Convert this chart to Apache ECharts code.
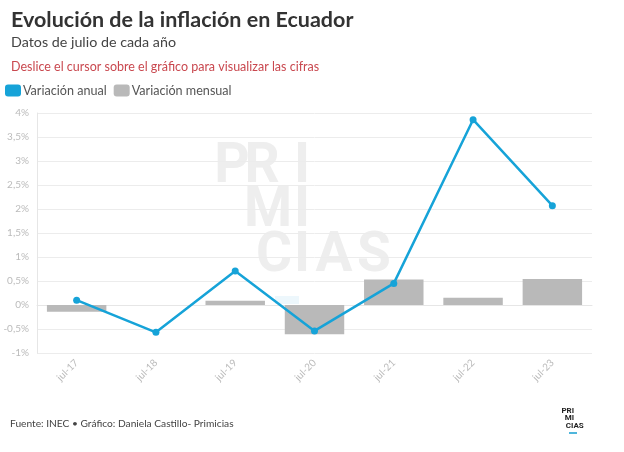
<!DOCTYPE html>
<html><head><meta charset="utf-8">
<script src="https://cdn.jsdelivr.net/npm/echarts@6/dist/echarts.min.js"></script>
<style>html,body{margin:0;padding:0;background:#fff}#c{width:624px;height:452px}</style>
</head><body><div id="c"></div>
<script>
const categories = ['jul-17','jul-18','jul-19','jul-20','jul-21','jul-22','jul-23'];
const variacionAnual = [0.10, -0.57, 0.71, -0.54, 0.45, 3.86, 2.07];
const variacionMensual = [-0.14, 0, 0.09, -0.61, 0.53, 0.15, 0.54];
const blue = '#16a3d8', gray = '#b9b9b9';
const FF = 'Lato';
const wm = '#eeeeee';
function L(t, x, y, size, color, align){
  return {type:'text', z:-10, silent:true, style:{text:t, x:x, y:y, fill:color, font:'bold '+size+'px Roboto', textAlign:align||'center', textVerticalAlign:'middle'}};
}
const chart = echarts.init(document.getElementById('c'));
chart.setOption({
  animation:false,
  title:[
    {text:'Evolución de la inflación en Ecuador', left:6, top:4, textStyle:{fontFamily:FF, fontWeight:'bold', fontSize:21.5, color:'#333'}},
    {text:'Datos de julio de cada año', left:6, top:30, textStyle:{fontFamily:FF, fontWeight:'normal', fontSize:14.3, color:'#444'}},
    {text:'Deslice el cursor sobre el gráfico para visualizar las cifras', left:6, top:55, textStyle:{fontFamily:FF, fontWeight:'normal', fontSize:12.5, color:'#c9484f'}},
    {text:'Fuente: INEC • Gráfico: Daniela Castillo- Primicias', left:5, top:414, textStyle:{fontFamily:FF, fontWeight:'normal', fontSize:10.2, color:'#444'}}
  ],
  legend:{left:5, top:84, padding:0, itemWidth:16, itemHeight:12, itemGap:7, icon:'roundRect',
    textStyle:{fontFamily:FF, fontSize:12.6, color:'#555', padding:[0,0,0,-3]},
    data:[{name:'Variación anual', itemStyle:{color:blue}}, {name:'Variación mensual', itemStyle:{color:gray}}]},
  graphic:[
    L('P',232,168,55,wm), L('R',262,168,55,wm), L('I',302,168,55,wm),
    L('M',268,212,55,wm), L('I',302,212,55,wm),
    L('C',274,257,55,wm), L('I',302,257,55,wm), L('A',334,257,55,wm), L('S',374,257,55,wm),
    {type:'rect', z:-10, silent:true, shape:{x:275,y:296,width:24,height:8}, style:{fill:'#edf7fc'}},
    {type:'text', silent:true, style:{text:'PRI', x:574, y:411, fill:'#222', font:'bold 8px Roboto', textAlign:'right', textVerticalAlign:'middle'}},
    {type:'text', silent:true, style:{text:'MI', x:574, y:418, fill:'#222', font:'bold 8px Roboto', textAlign:'right', textVerticalAlign:'middle'}},
    {type:'text', silent:true, style:{text:'C', x:571, y:426, fill:'#222', font:'bold 8px Roboto', textAlign:'right', textVerticalAlign:'middle'}},
    {type:'text', silent:true, style:{text:'IAS', x:571, y:426, fill:'#222', font:'bold 8px Roboto', textAlign:'left', textVerticalAlign:'middle'}},
    {type:'rect', silent:true, shape:{x:569,y:432,width:8,height:2}, style:{fill:'#4fb6dc'}}
  ],
  grid:{left:37, right:32, top:113, bottom:99, containLabel:false},
  xAxis:{type:'category', data:categories, boundaryGap:true,
    axisLine:{lineStyle:{color:'#e6e6e6'}}, axisTick:{show:false},
    axisLabel:{rotate:45, color:'#bbb', fontFamily:FF, fontSize:10, margin:8}},
  yAxis:{type:'value', min:-1, max:4, interval:0.5,
    axisLine:{show:true, lineStyle:{color:'#e6e6e6'}},
    splitLine:{lineStyle:{color:'#ececec'}},
    axisLabel:{color:'#bbb', fontFamily:FF, fontSize:10, margin:8,
      formatter:v=>String(v).replace('.',',')+'%'}},
  series:[
    {name:'Variación mensual', type:'bar', data:variacionMensual, barWidth:'75%', itemStyle:{color:gray}, z:2},
    {name:'Variación anual', type:'line', data:variacionAnual, symbol:'circle', symbolSize:7,
      lineStyle:{color:blue, width:2.5}, itemStyle:{color:blue}, z:3}
  ]
});
</script></body></html>
